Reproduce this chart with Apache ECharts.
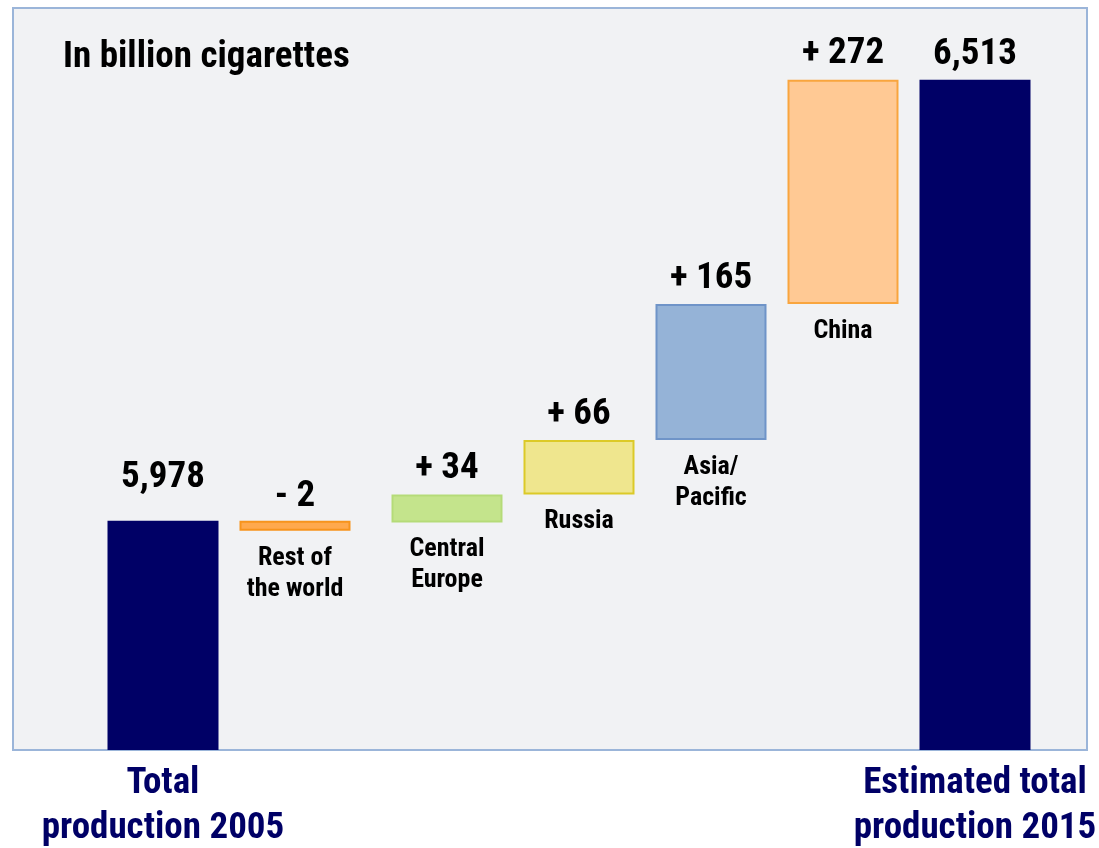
<!DOCTYPE html>
<html><head><meta charset="utf-8">
<script src="https://cdn.jsdelivr.net/npm/echarts@6/dist/echarts.min.js"></script>
<style>html,body{margin:0;padding:0;background:#fff}#c{width:1099px;height:848px}</style>
</head><body><div id="c"></div><script>
// ---- data ----
const categories = ['Total\nproduction 2005', 'Rest of\nthe world', 'Central\nEurope', 'Russia', 'Asia/\nPacific', 'China', 'Estimated total\nproduction 2015'];
const startTotal = 5978;
const deltas = [-2, 34, 66, 165, 272];
const endTotal = 6513;
const titleText = 'In billion cigarettes';

// ---- styling ----
const FONT = "'Roboto Condensed','Liberation Sans',sans-serif";
const NAVY = '#000066';
const fills = [NAVY, '#FFA94D', '#C4E48C', '#EFE68E', '#95B3D7', '#FFC994', NAVY];
const borders = [NAVY, '#F7941D', '#B5DB78', '#DCCA28', '#6F94C8', '#F9A53E', NAVY];
const totalLabelDist = [25, 6];
const BIG = 37, SMALL = 26;

const n = categories.length;
const bases = ['-'], steps = ['-'], carriers = ['-'], totals = [startTotal];
let cum = startTotal;
deltas.forEach(d => { bases.push(cum); steps.push(d); carriers.push(0); totals.push('-'); cum += d; });
bases.push('-'); steps.push('-'); carriers.push('-'); totals.push(endTotal);

const groups = [[0, 2], [2, n]];
const gridDefs = [
  { left: 97, width: 264, top: 8, height: 742, outerBoundsMode: 'none', containLabel: false },
  { left: 381, width: 660, top: 8, height: 742, outerBoundsMode: 'none', containLabel: false }
];

const fmtDelta = d => (d < 0 ? '- ' + Math.abs(d) : '+ ' + d);
const BW = 111;

const xAxes = [], yAxes = [], series = [];
groups.forEach(([a, b], g) => {
  xAxes.push({
    type: 'category', gridIndex: g, data: categories.slice(a, b),
    axisLine: { show: false }, axisTick: { show: false }, splitLine: { show: false },
    axisLabel: {
      interval: 0, margin: 11, color: NAVY, fontSize: BIG, fontWeight: 'bold', lineHeight: 45, fontFamily: FONT,
      formatter: v => (v === categories[0] || v === categories[n - 1]) ? v : ''
    }
  });
  yAxes.push({ type: 'value', gridIndex: g, min: 5700, max: 6600, show: false, splitLine: { show: false } });
  const common = { type: 'bar', xAxisIndex: g, yAxisIndex: g, barWidth: BW, barGap: '-100%', silent: true };
  series.push(Object.assign({}, common, {
    name: 'base' + g, stack: 'wf' + g, stackStrategy: 'all',
    itemStyle: { color: 'rgba(0,0,0,0)' }, data: bases.slice(a, b)
  }));
  series.push(Object.assign({}, common, {
    name: 'step' + g, stack: 'wf' + g, stackStrategy: 'all', barMinHeight: 10,
    data: steps.slice(a, b).map((v, k) => v === '-' ? '-' : {
      value: v, itemStyle: { color: fills[a + k], borderColor: borders[a + k], borderWidth: 2 }
    }),
    label: {
      show: true, position: 'bottom', distance: 12, color: '#000', fontSize: SMALL, fontWeight: 'bold',
      lineHeight: 31, fontFamily: FONT, formatter: p => categories[a + p.dataIndex]
    }
  }));
  series.push(Object.assign({}, common, {
    name: 'carrier' + g, stack: 'wf' + g, stackStrategy: 'all', barMinHeight: 1,
    itemStyle: { color: 'rgba(0,0,0,0)' }, data: carriers.slice(a, b),
    label: {
      show: true, position: 'top', distance: 6, color: '#000', fontSize: BIG, fontWeight: 'bold',
      lineHeight: 37, fontFamily: FONT, formatter: p => fmtDelta(steps[a + p.dataIndex])
    }
  }));
  series.push(Object.assign({}, common, {
    name: 'total' + g, itemStyle: { color: NAVY },
    data: totals.slice(a, b).map(v => v === '-' ? '-' : {
      value: v, label: { distance: v === startTotal ? totalLabelDist[0] : totalLabelDist[1] }
    }),
    label: {
      show: true, position: 'top', color: '#000', fontSize: BIG, fontWeight: 'bold',
      lineHeight: 37, fontFamily: FONT, formatter: p => Number(p.value).toLocaleString('en-US')
    }
  }));
});

const chart = echarts.init(document.getElementById('c'), null, { renderer: 'canvas' });
chart.setOption({
  animation: false,
  backgroundColor: '#ffffff',
  title: {
    text: titleText, left: 63, top: 39, padding: 0,
    textStyle: { color: '#000', fontSize: BIG, fontWeight: 'bold', fontFamily: FONT, lineHeight: 37 }
  },
  graphic: [{
    type: 'rect', z: 0, silent: true,
    shape: { x: 13, y: 8, width: 1074, height: 742 },
    style: { fill: '#F1F2F4', stroke: '#9BB5D9', lineWidth: 2 }
  }],
  grid: gridDefs,
  xAxis: xAxes,
  yAxis: yAxes,
  series: series
});
</script></body></html>
